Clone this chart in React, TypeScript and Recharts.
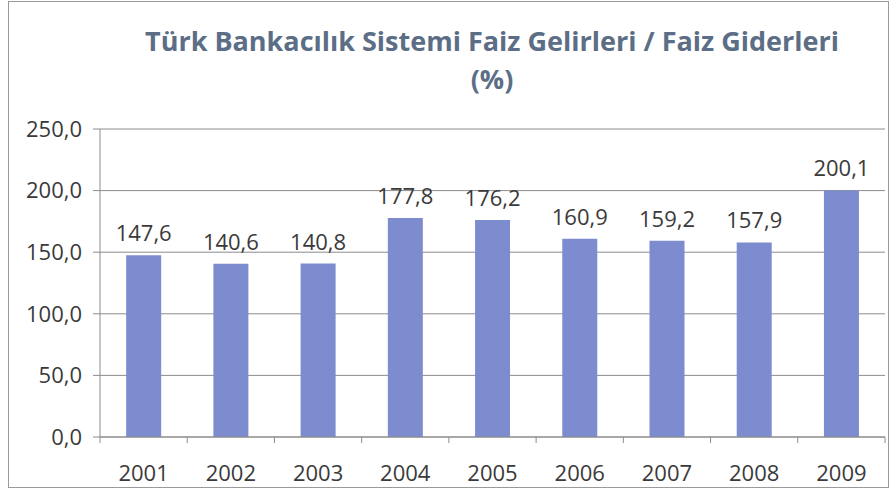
import { Bar, BarChart, CartesianGrid, LabelList, XAxis, YAxis } from "recharts";

const years = ["2001", "2002", "2003", "2004", "2005", "2006", "2007", "2008", "2009"];
const ratios = [147.6, 140.6, 140.8, 177.8, 176.2, 160.9, 159.2, 157.9, 200.1];
const yTicks = [0, 50, 100, 150, 200, 250];

const data = years.map((year, i) => ({ year, ratio: ratios[i] }));

const FONT = "'Open Sans', 'DejaVu Sans', sans-serif";
const comma = (v: number) => v.toFixed(1).replace(".", ",");

function YearTick(props: any) {
  const { x, y, payload, index } = props;
  const half = payload?.offset ?? 785 / 18;
  return (
    <g>
      <line x1={x - half} x2={x - half} y1={y - 8} y2={y - 2} stroke="#8c8c8c" />
      {index === years.length - 1 && (
        <line x1={x + half} x2={x + half} y1={y - 8} y2={y - 2} stroke="#8c8c8c" />
      )}
      <text x={x} y={y + 36} textAnchor="middle" fill="#3a3a3a" fontSize={22} fontFamily={FONT}>
        {payload.value}
      </text>
    </g>
  );
}

export default function App() {
  return (
    <div style={{ position: "absolute", left: 0, top: 0, width: 893, height: 493, background: "#fff" }}>
      <div
        style={{
          position: "absolute",
          left: 8,
          top: 1,
          width: 881,
          height: 487,
          border: "1px solid #9a9a9a",
          boxSizing: "border-box"
        }}
      />
      <div
        style={{
          position: "absolute",
          left: 0,
          top: 22,
          width: 984,
          textAlign: "center",
          fontFamily: FONT,
          fontWeight: 700,
          fontSize: 27,
          lineHeight: "38px",
          color: "#5b6e86"
        }}
      >
        Türk Bankacılık Sistemi Faiz Gelirleri / Faiz Giderleri
        <br />
        (%)
      </div>
      <div style={{ position: "absolute", left: 0, top: 0 }}>
        <BarChart
          width={893}
          height={493}
          data={data}
          margin={{ top: 129, right: 8, bottom: 26, left: 10 }}
          barCategoryGap="30%"
        >
          <CartesianGrid vertical={false} stroke="#8c8c8c" strokeWidth={1} />
          <XAxis
            dataKey="year"
            axisLine={{ stroke: "#8c8c8c" }}
            tickLine={false}
            tick={<YearTick />}
            height={30}
            interval={0}
          />
          <YAxis
            domain={[0, 250]}
            ticks={yTicks}
            width={90}
            tickFormatter={comma}
            axisLine={{ stroke: "#8c8c8c" }}
            tickLine={{ stroke: "#8c8c8c" }}
            tickSize={7}
            tickMargin={11}
            tick={{ fill: "#3a3a3a", fontSize: 22, fontFamily: FONT }}
          />
          <Bar dataKey="ratio" fill="#7d8bcf" isAnimationActive={false}>
            <LabelList
              dataKey="ratio"
              position="top"
              offset={14}
              formatter={(v: any) => comma(Number(v))}
              fill="#3a3a3a"
              fontSize={22}
              fontFamily={FONT}
            />
          </Bar>
        </BarChart>
      </div>
    </div>
  );
}
